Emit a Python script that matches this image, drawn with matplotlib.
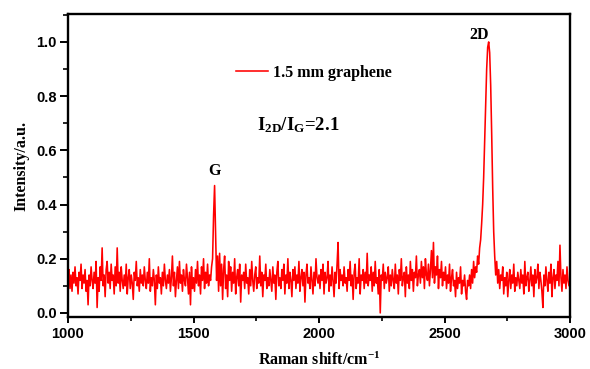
import numpy as np
import matplotlib
matplotlib.use("Agg")
import matplotlib.pyplot as plt
from matplotlib.ticker import MultipleLocator

c1000 = [0.12,0.16,0.09,0.14,0.08,0.15,0.11,0.17,0.10,0.13,0.07,0.15,0.12,0.18,0.09,0.14,0.11,0.16,0.08,0.12,0.03,0.14,0.10,0.17,0.12]
c1100 = [0.09,0.15,0.11,0.19,0.02,0.13,0.08,0.17,0.12,0.24,0.10,0.14,0.06,0.16,0.19,0.11,0.15,0.09,0.18,0.12,0.14,0.07,0.17,0.10,0.24]
c1200 = [0.11,0.15,0.08,0.17,0.12,0.09,0.14,0.10,0.18,0.07,0.13,0.16,0.09,0.14,0.11,0.05,0.15,0.12,0.19,0.10,0.13,0.08,0.16,0.11,0.14]
c1300 = [0.10,0.17,0.12,0.09,0.15,0.11,0.20,0.08,0.13,0.10,0.16,0.12,0.03,0.14,0.09,0.17,0.11,0.13,0.07,0.15,0.10,0.18,0.12,0.09,0.14]
c1400 = [0.11,0.16,0.08,0.13,0.21,0.10,0.15,0.06,0.12,0.17,0.09,0.19,0.11,0.14,0.08,0.16,0.12,0.10,0.18,0.13,0.07,0.15,0.03,0.17,0.09]
c1500 = [0.13,0.08,0.16,0.11,0.19,0.10,0.14,0.07,0.17,0.12,0.20,0.09,0.15,0.11,0.18,0.10,0.14,0.12,0.17,0.20,0.36,0.47,0.30,0.12,0.21]
c1600 = [0.08,0.22,0.10,0.18,0.05,0.16,0.21,0.09,0.14,0.06,0.19,0.12,0.17,0.08,0.15,0.11,0.20,0.07,0.13,0.16,0.10,0.18,0.04,0.14,0.12]
c1700 = [0.15,0.09,0.18,0.11,0.13,0.07,0.16,0.10,0.19,0.12,0.08,0.14,0.17,0.09,0.13,0.11,0.21,0.10,0.15,0.06,0.14,0.12,0.18,0.09,0.13]
c1800 = [0.10,0.16,0.12,0.08,0.17,0.11,0.14,0.05,0.15,0.19,0.10,0.13,0.09,0.16,0.12,0.18,0.07,0.14,0.11,0.20,0.09,0.15,0.12,0.06,0.16]
c1900 = [0.12,0.17,0.09,0.14,0.11,0.19,0.08,0.13,0.16,0.10,0.15,0.04,0.14,0.18,0.11,0.13,0.09,0.17,0.12,0.07,0.15,0.10,0.20,0.13,0.11]
c2000 = [0.14,0.09,0.16,0.12,0.18,0.07,0.15,0.11,0.13,0.19,0.08,0.14,0.10,0.17,0.12,0.06,0.15,0.11,0.18,0.26,0.09,0.16,0.12,0.14,0.10]
c2100 = [0.17,0.11,0.13,0.08,0.16,0.12,0.19,0.10,0.14,0.05,0.15,0.18,0.09,0.13,0.11,0.20,0.07,0.14,0.12,0.16,0.09,0.15,0.11,0.22,0.10]
c2200 = [0.14,0.12,0.17,0.08,0.15,0.10,0.19,0.11,0.13,0.07,0.16,0.00,0.14,0.12,0.18,0.09,0.15,0.11,0.13,0.17,0.08,0.14,0.10,0.16,0.12]
c2300 = [0.09,0.18,0.11,0.14,0.07,0.16,0.12,0.20,0.10,0.13,0.15,0.06,0.17,0.11,0.14,0.09,0.19,0.12,0.16,0.08,0.15,0.13,0.21,0.10,0.14]
c2400 = [0.16,0.11,0.19,0.13,0.17,0.09,0.20,0.14,0.12,0.18,0.10,0.16,0.23,0.13,0.26,0.11,0.17,0.14,0.21,0.09,0.16,0.13,0.19,0.10,0.15]
c2500 = [0.12,0.17,0.09,0.14,0.11,0.18,0.08,0.13,0.16,0.10,0.12,0.06,0.15,0.09,0.13,0.11,0.17,0.07,0.12,0.10,0.14,0.08,0.05,0.12,0.10]
c2600 = [0.14,0.09,0.16,0.11,0.19,0.13,0.17,0.15,0.21,0.18,0.24,0.27,0.33,0.40,0.50,0.63,0.77,0.90,0.98,1.00,0.96,0.84,0.66,0.46,0.30]
c2700 = [0.21,0.14,0.19,0.11,0.16,0.09,0.14,0.12,0.17,0.07,0.13,0.10,0.15,0.06,0.12,0.16,0.09,0.14,0.11,0.18,0.08,0.13,0.10,0.15,0.12]
c2800 = [0.09,0.16,0.11,0.14,0.07,0.19,0.10,0.13,0.15,0.08,0.12,0.17,0.10,0.14,0.06,0.16,0.11,0.13,0.18,0.09,0.15,0.12,0.08,0.02,0.14]
c2900 = [0.10,0.17,0.12,0.08,0.15,0.11,0.18,0.06,0.13,0.16,0.09,0.14,0.12,0.19,0.10,0.25,0.13,0.08,0.16,0.11,0.14,0.09,0.17,0.12,0.10]
c3000 = [0.12]

chunks = [c1000, c1100, c1200, c1300, c1400, c1500, c1600, c1700, c1800, c1900,
          c2000, c2100, c2200, c2300, c2400, c2500, c2600, c2700, c2800, c2900, c3000]
intensity = np.array(sum(chunks, []))
step = 4
shift = 1000 + step * np.arange(len(intensity))

series_label = "1.5 mm graphene"
xticks = [1000, 1500, 2000, 2500, 3000]
yticks = [0.0, 0.2, 0.4, 0.6, 0.8, 1.0]

plt.rcParams['mathtext.fontset'] = 'custom'
plt.rcParams['mathtext.rm'] = 'Liberation Serif:bold'
plt.rcParams['mathtext.bf'] = 'Liberation Serif:bold'
plt.rcParams['mathtext.it'] = 'Liberation Serif:bold'

fig = plt.figure(figsize=(5.9, 3.69), dpi=100)
ax = fig.add_axes([68/590, 1-317/369, (570-68)/590, (317-14)/369])

ax.plot(shift, intensity, color='#ff0000', lw=1.15, label=series_label)

ax.set_xlim(1000, 3000)
ax.set_ylim(-0.015, 1.103)
ax.set_xticks(xticks)
ax.set_yticks(yticks)
ax.set_yticklabels([f"{v:.1f}" for v in yticks])
ax.xaxis.set_minor_locator(MultipleLocator(250))
ax.yaxis.set_minor_locator(MultipleLocator(0.1))

for lab in ax.get_xticklabels() + ax.get_yticklabels():
    lab.set_fontfamily('Liberation Sans')
    lab.set_fontweight('bold')
    lab.set_fontsize(10.5)

ax.tick_params(axis='y', which='major', direction='out', length=6, width=1.4, pad=2)
ax.tick_params(axis='y', which='minor', direction='out', length=3.5, width=1.2)
ax.tick_params(axis='x', which='major', direction='out', length=4, width=1.4, pad=3)
ax.tick_params(axis='x', which='minor', direction='out', length=3, width=1.2)
ax.tick_params(which='both', top=False, right=False)
for s in ax.spines.values():
    s.set_linewidth(1.7)

ax.set_ylabel("Intensity/a.u.", fontfamily='Liberation Serif', fontweight='bold', fontsize=11.5, labelpad=5)
ax.set_xlabel(r"Raman shift/cm$^{\mathbf{-1}}$", fontfamily='Liberation Serif', fontweight='bold',
              fontsize=11.5, labelpad=8)

leg = ax.legend(loc='center left', bbox_to_anchor=((230-68)/502, 1-(73-14)/303), frameon=False,
                prop={'family': 'Liberation Serif', 'weight': 'bold', 'size': 11.5},
                handlelength=2.0, handletextpad=0.3, borderaxespad=0)

ax.text((298-68)/502, 1-(125-14)/303, r"$\mathbf{I_{2D}/I_{G}}$=2.1", transform=ax.transAxes,
        ha='center', va='center', fontfamily='Liberation Serif', fontweight='bold', fontsize=13.5)
ax.text(1585, 0.525, "G", ha='center', va='center', fontfamily='Liberation Serif', fontweight='bold', fontsize=11.5)
ax.text(2638, 1.025, "2D", ha='center', va='center', fontfamily='Liberation Serif', fontweight='bold', fontsize=11.5)

fig.savefig("out.png", dpi=100)
